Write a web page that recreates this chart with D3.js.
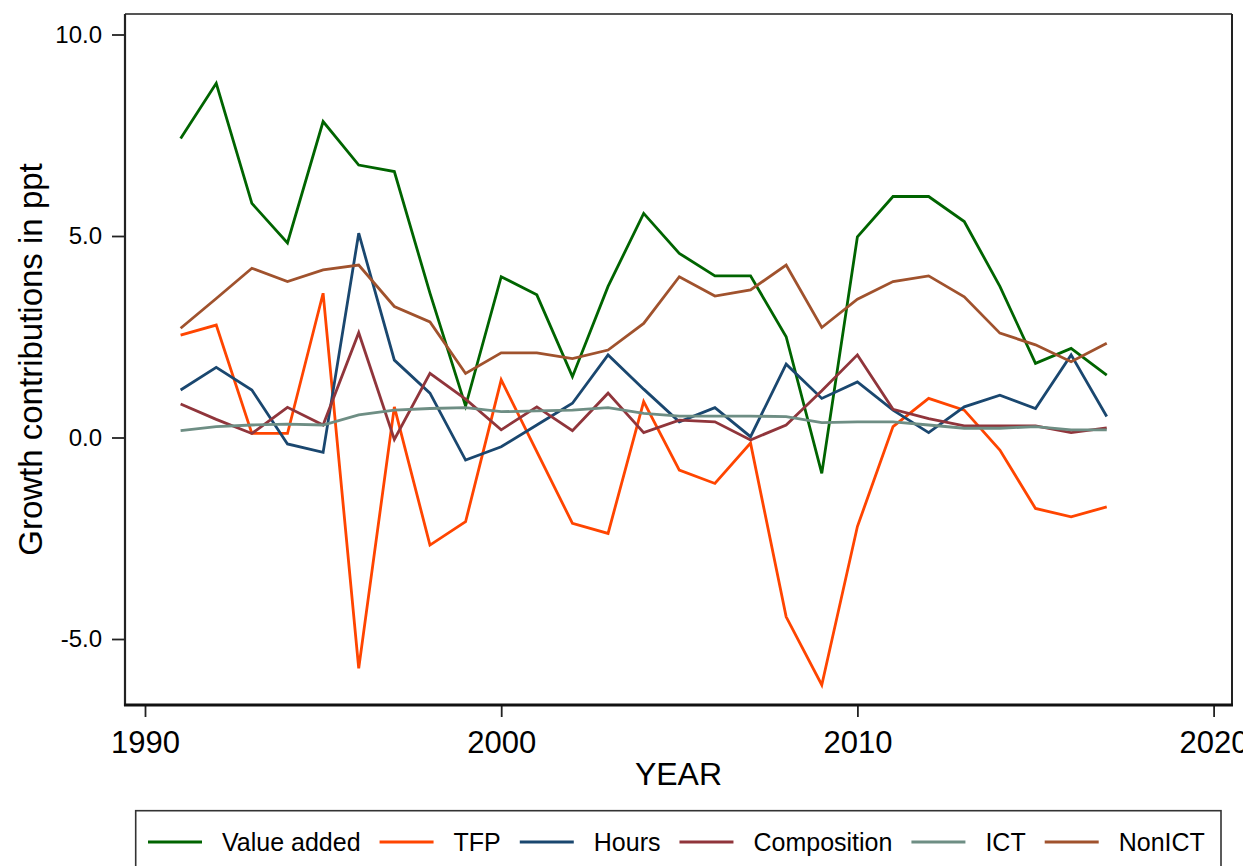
<!DOCTYPE html>
<html>
<head>
<meta charset="utf-8">
<script src="https://cdn.jsdelivr.net/npm/d3@7/dist/d3.min.js"></script>
<style>
  html, body { margin: 0; padding: 0; background: #fff; }
  svg { display: block; }
  text { font-family: "Liberation Sans", Arial, sans-serif; fill: #000; }
</style>
</head>
<body>
<svg id="chart" width="1243" height="866"></svg>
<script>
const years = d3.range(1991, 2018);
const valueAdded = [7.42, 8.79, 5.81, 4.83, 7.84, 6.76, 6.60, 3.58, 0.78, 3.99, 3.54, 1.51, 3.75, 5.56, 4.57, 4.01, 4.01, 2.50, -0.89, 4.98, 5.98, 5.98, 5.36, 3.75, 1.84, 2.21, 1.55];
const tfp = [2.54, 2.79, 0.10, 0.10, 3.58, -5.73, 0.76, -2.67, -2.09, 1.43, -0.35, -2.13, -2.38, 0.89, -0.81, -1.14, -0.14, -4.45, -6.14, -2.21, 0.27, 0.97, 0.68, -0.31, -1.76, -1.97, -1.72];
const hours = [1.18, 1.74, 1.18, -0.16, -0.37, 5.07, 1.92, 1.10, -0.56, -0.23, 0.31, 0.85, 2.05, 1.20, 0.39, 0.74, 0.02, 1.82, 0.97, 1.38, 0.68, 0.12, 0.76, 1.05, 0.72, 2.05, 0.52];
const composition = [0.83, 0.45, 0.10, 0.75, 0.31, 2.60, -0.05, 1.59, 0.95, 0.19, 0.76, 0.17, 1.10, 0.12, 0.43, 0.39, -0.06, 0.31, 1.16, 2.05, 0.70, 0.47, 0.29, 0.29, 0.29, 0.12, 0.24];
const ict = [0.17, 0.27, 0.31, 0.33, 0.31, 0.56, 0.68, 0.72, 0.74, 0.64, 0.66, 0.68, 0.74, 0.60, 0.53, 0.53, 0.53, 0.52, 0.37, 0.39, 0.39, 0.31, 0.23, 0.23, 0.27, 0.19, 0.19];
const nonIct = [2.71, 3.45, 4.20, 3.87, 4.16, 4.28, 3.25, 2.87, 1.59, 2.10, 2.10, 1.96, 2.17, 2.83, 3.99, 3.51, 3.66, 4.28, 2.73, 3.43, 3.87, 4.01, 3.49, 2.59, 2.30, 1.88, 2.34];

const seriesNames = ["Value added", "TFP", "Hours", "Composition", "ICT", "NonICT"];
const seriesValues = [valueAdded, tfp, hours, composition, ict, nonIct];
const seriesColors = ["#006400", "#ff4500", "#1a476f", "#90353b", "#6e8e84", "#a0522d"];

const yTicks = [-5, 0, 5, 10];
const yTickLabels = ["-5.0", "0.0", "5.0", "10.0"];
const xTicks = [1990, 2000, 2010, 2020];
const xTickLabels = ["1990", "2000", "2010", "2020"];

const svg = d3.select("#chart");
const frame = { left: 125, right: 1232, top: 14, bottom: 705 };

const x = d3.scaleLinear().domain([1990, 2020]).range([145, 1213.6]);
const y = d3.scaleLinear().domain([-5, 10]).range([639, 34.5]);

// plot region border (top/right)
svg.append("line").attr("x1", frame.left).attr("x2", frame.right)
  .attr("y1", frame.top).attr("y2", frame.top)
  .attr("stroke", "#555").attr("stroke-width", 1.8);
svg.append("line").attr("x1", frame.right).attr("x2", frame.right)
  .attr("y1", frame.top).attr("y2", frame.bottom)
  .attr("stroke", "#222").attr("stroke-width", 2);

// lines
const line = d3.line().x((d, i) => x(years[i])).y(d => y(d));
seriesValues.forEach((vals, k) => {
  svg.append("path").datum(vals)
    .attr("d", line)
    .attr("fill", "none")
    .attr("stroke", seriesColors[k])
    .attr("stroke-width", 2.8)
    .attr("stroke-linejoin", "miter");
});

// y axis
const yAxis = d3.axisLeft(y).tickValues(yTicks)
  .tickFormat((d, i) => yTickLabels[yTicks.indexOf(d)])
  .tickSize(13).tickPadding(10);
const gy = svg.append("g").attr("transform", `translate(${frame.left},0)`).call(yAxis);
gy.select(".domain").remove();
gy.selectAll(".tick line").attr("stroke", "#222").attr("stroke-width", 1.8);
gy.selectAll(".tick text").attr("font-size", 24).attr("fill", "#000")
  .attr("font-family", "Liberation Sans, Arial, sans-serif");
svg.append("line").attr("x1", frame.left).attr("x2", frame.left)
  .attr("y1", frame.top).attr("y2", frame.bottom + 1)
  .attr("stroke", "#222").attr("stroke-width", 2.2);

// x axis
const xAxis = d3.axisBottom(x).tickValues(xTicks)
  .tickFormat(d => xTickLabels[xTicks.indexOf(d)])
  .tickSize(12).tickPadding(14);
const gx = svg.append("g").attr("transform", `translate(0,${frame.bottom})`).call(xAxis);
gx.select(".domain").remove();
gx.selectAll(".tick line").attr("stroke", "#222").attr("stroke-width", 1.8);
gx.selectAll(".tick text").attr("font-size", 31).attr("fill", "#000")
  .attr("font-family", "Liberation Sans, Arial, sans-serif");
svg.append("line").attr("x1", frame.left - 1).attr("x2", frame.right + 1)
  .attr("y1", frame.bottom).attr("y2", frame.bottom)
  .attr("stroke", "#111").attr("stroke-width", 2.8);

// axis titles
svg.append("text").attr("x", (frame.left + frame.right) / 2).attr("y", 785)
  .attr("text-anchor", "middle").attr("font-size", 32).text("YEAR");
svg.append("text")
  .attr("transform", `translate(41.5,${(frame.top + frame.bottom) / 2}) rotate(-90)`)
  .attr("text-anchor", "middle").attr("font-size", 33)
  .text("Growth contributions in ppt");

// legend
svg.append("rect").attr("x", 135.7).attr("y", 810.7).attr("width", 1221 - 135.7).attr("height", 80)
  .attr("fill", "none").attr("stroke", "#333").attr("stroke-width", 1.6);
let cx = 148;
const ly = 842;
seriesNames.forEach((name, k) => {
  svg.append("line").attr("x1", cx).attr("x2", cx + 54).attr("y1", ly).attr("y2", ly)
    .attr("stroke", seriesColors[k]).attr("stroke-width", 3.2);
  cx += 54 + 20;
  const t = svg.append("text").attr("x", cx).attr("y", 850.5).attr("font-size", 25).text(name);
  cx += t.node().getComputedTextLength() + 19;
});
</script>
</body>
</html>
